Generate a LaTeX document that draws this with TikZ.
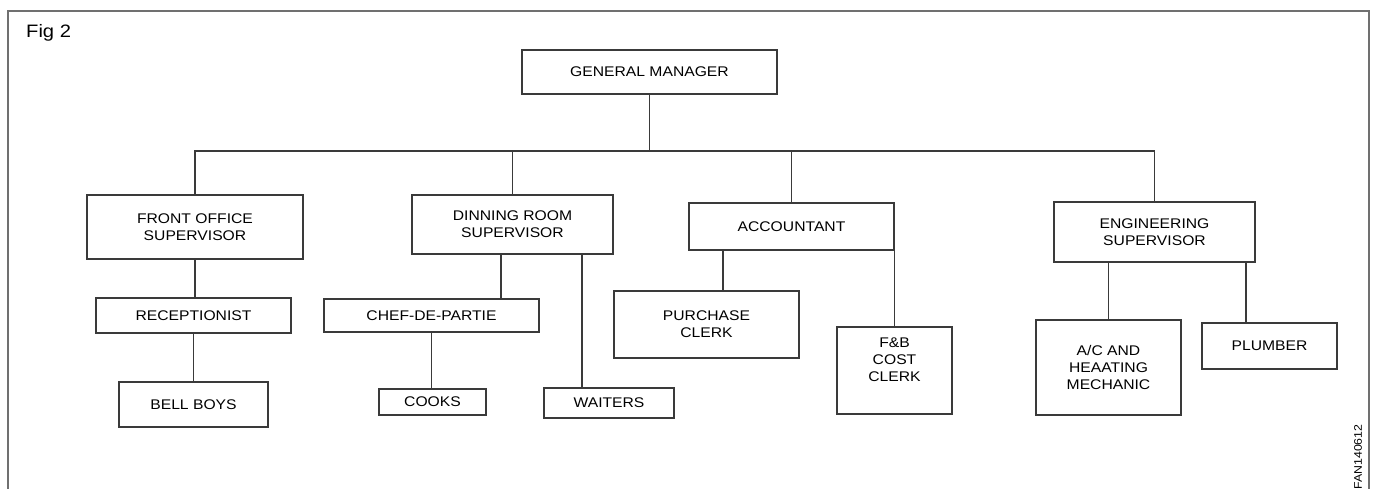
\documentclass[tikz,border=0pt]{standalone}
\usepackage{fontspec}
\setmainfont[FakeStretch=1.12]{Liberation Sans}
\usetikzlibrary{calc}
\definecolor{boxline}{HTML}{3A3A3A}
\definecolor{frameline}{HTML}{707070}
\tikzset{
  box/.style={draw=boxline, line width=1.2pt, inner sep=0pt, align=center,
    font=\fontsize{14}{17}\selectfont},
  link/.style={draw=boxline, line width=1.2pt}
}
\begin{document}
\begin{tikzpicture}[x=1pt,y=-1pt]
  \useasboundingbox (0,0) rectangle (1377,489);
  % frame and captions
  \draw[frameline, line width=1.4pt] (8,489) |- (1369,11) -- (1369,489);
  \node[anchor=west, inner sep=0pt, font=\fontsize{18}{20}\selectfont] (fig) at (26,33) {Fig 2};
  \node[rotate=90, inner sep=0pt, font=\fontsize{11}{12}\selectfont] (code) at (1358,457) {FAN140612};
  % top level
  \node[box, minimum width=255, minimum height=44] (gm) at (649.5,72) {GENERAL MANAGER};
  \coordinate (bus) at (649.5,151);
  % supervisors
  \node[box, minimum width=216, minimum height=64] (fo) at (195,227) {FRONT OFFICE\\SUPERVISOR};
  \node[box, minimum width=201, minimum height=59] (dr) at (512.5,224.5) {DINNING ROOM\\SUPERVISOR};
  \node[box, minimum width=205, minimum height=47] (acc) at (791.5,226.5) {ACCOUNTANT};
  \node[box, minimum width=201, minimum height=60] (eng) at (1154.5,232) {ENGINEERING\\SUPERVISOR};
  % staff
  \node[box, minimum width=195, minimum height=35] (rec) at (193.5,315.5) {RECEPTIONIST};
  \node[box, minimum width=149, minimum height=45] (bell) at (193.5,404.5) {BELL BOYS};
  \node[box, minimum width=215, minimum height=33] (chef) at (431.5,315.5) {CHEF-DE-PARTIE};
  \node[box, minimum width=107, minimum height=26] (cooks) at (432.5,402) {COOKS};
  \node[box, minimum width=130, minimum height=30] (waiters) at (609,403) {WAITERS};
  \node[box, minimum width=185, minimum height=67] (purchase) at (706.5,324.5) {PURCHASE\\CLERK};
  \node[box, minimum width=115, minimum height=87] (fbclerk) at (894.5,370.5) {F\&B\\COST\\CLERK\\ \strut};
  \node[box, minimum width=145, minimum height=95] (mech) at (1108.5,367.5) {A/C AND\\HEAATING\\MECHANIC};
  \node[box, minimum width=135, minimum height=46] (plumber) at (1269.5,346) {PLUMBER};
  % connectors
  \draw[link] (gm) -- (bus);
  \draw[link] (fo.north) |- (bus) -| (eng.north);
  \foreach \n in {dr,acc}{\draw[link] (\n.north) -- (\n.north |- bus);}
  \draw[link] (fo.south) -- (fo.south |- rec.north);
  \draw[link] (rec) -- (bell);
  \draw[link] ([xshift=-11.5]dr.south) coordinate (d1) -- (d1 |- chef.north);
  \draw[link] ([xshift=69.5]dr.south) coordinate (d2) -- (d2 |- waiters.north);
  \draw[link] (chef.south) -- (chef.south |- cooks.north);
  \draw[link] ([xshift=-68.5]acc.south) coordinate (a1) -- (a1 |- purchase.north);
  \draw[link] (acc.south east) -- (acc.south east |- fbclerk.north);
  \draw[link] (mech.north) -- (mech.north |- eng.south);
  \draw[link] ([xshift=-23.5]plumber.north) coordinate (e1) -- (e1 |- eng.south);
\end{tikzpicture}
\end{document}
